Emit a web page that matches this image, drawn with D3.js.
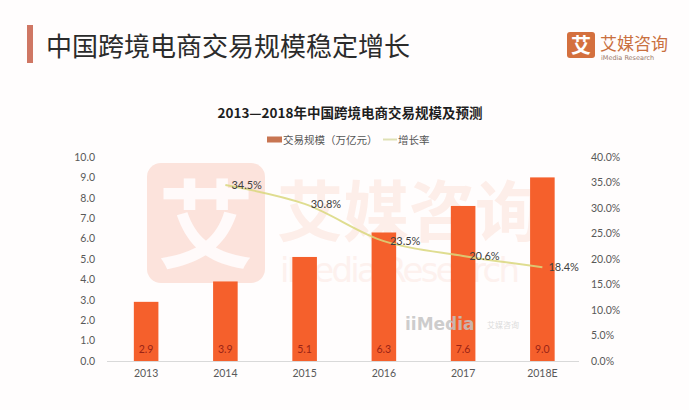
<!DOCTYPE html>
<html>
<head>
<meta charset="utf-8">
<script src="https://cdn.jsdelivr.net/npm/d3@7/dist/d3.min.js"></script>
<style>
html,body{margin:0;padding:0;background:#fffdfd;}
svg{display:block;}
</style>
</head>
<body>
<svg id="chart" width="689" height="410"></svg>
<script>
const categories = ["2013","2014","2015","2016","2017","2018E"];
const tradeScale = [2.9, 3.9, 5.1, 6.3, 7.6, 9.0];
const growthRate = [null, 34.5, 30.8, 23.5, 20.6, 18.4];
const leftTicks = [0,1,2,3,4,5,6,7,8,9,10];
const rightTicks = [0,5,10,15,20,25,30,35,40];
const pageTitle = "中国跨境电商交易规模稳定增长";
const chartTitle = "2013—2018年中国跨境电商交易规模及预测";
const legendLabels = ["交易规模（万亿元）", "增长率"];

const svg = d3.select("#chart");
const numFont = "Lato, 'Open Sans', 'Noto Sans CJK SC', sans-serif";
const cjk = "'Noto Sans CJK SC', 'Noto Sans', sans-serif";

svg.append("rect").attr("width",689).attr("height",410).attr("fill","#fffdfd");

// Header
svg.append("rect").attr("x",27).attr("y",25).attr("width",6).attr("height",38).attr("fill","#cf7764");
svg.append("text").attr("x",46).attr("y",56).attr("font-family",cjk).attr("font-size",26)
  .attr("fill","#2b2b2b").text(pageTitle);

// Logo
svg.append("rect").attr("x",567).attr("y",32).attr("width",28).attr("height",26).attr("rx",3).attr("fill","#d4703e");
svg.append("text").attr("x",581).attr("y",53).attr("text-anchor","middle").attr("font-family",cjk)
  .attr("font-weight","bold").attr("font-size",20).attr("fill","#fff").text("艾");
svg.append("text").attr("x",600).attr("y",50).attr("font-family",cjk).attr("font-size",17)
  .attr("fill","#c9703f").text("艾媒咨询");
svg.append("text").attr("x",601).attr("y",60).attr("font-family","'DejaVu Sans', sans-serif").attr("font-size",6.5)
  .attr("fill","#9a7a6a").text("iMedia Research");

// Watermark (faint, behind the chart)
const wm = svg.append("g");
wm.append("rect").attr("x",147).attr("y",163).attr("width",118).attr("height",120).attr("rx",14).attr("fill","#fce3dc");
wm.append("text").attr("x",206).attr("y",260).attr("text-anchor","middle").attr("font-family",cjk)
  .attr("font-weight","bold").attr("font-size",96).attr("fill","#fffafa").text("艾");
wm.append("text").attr("x",277).attr("y",236).attr("font-family",cjk).attr("font-weight","bold")
  .attr("font-size",66).attr("fill","#fdeee9").text("艾媒咨询");
wm.append("text").attr("x",280).attr("y",282).attr("font-family","'DejaVu Sans', sans-serif")
  .attr("font-size",34).attr("fill","#fdf1ee").attr("textLength",240).text("iMedia Research");

// Chart title
svg.append("text").attr("x",350).attr("y",118).attr("text-anchor","middle").attr("font-family",cjk)
  .attr("font-weight","bold").attr("font-size",13.5).attr("fill","#1e1e1e").text(chartTitle);

// Legend
svg.append("rect").attr("x",267).attr("y",136.5).attr("width",15).attr("height",6).attr("fill","#c87552");
svg.append("text").attr("x",283).attr("y",143.5).attr("font-family",cjk).attr("font-size",10.5)
  .attr("fill","#555").text(legendLabels[0]);
svg.append("line").attr("x1",383).attr("x2",397).attr("y1",139.5).attr("y2",139.5)
  .attr("stroke","#dfe0b4").attr("stroke-width",2);
svg.append("text").attr("x",398).attr("y",143.5).attr("font-family",cjk).attr("font-size",10.5)
  .attr("fill","#555").text(legendLabels[1]);

// Scales
const x = d3.scaleBand().domain(categories).range([106.5, 582]).padding(0);
const y = d3.scaleLinear().domain([0,10]).range([361,157]);
const y2 = d3.scaleLinear().domain([0,40]).range([361,157]);
const barW = x.bandwidth()*0.31;

// Left axis
const leftAxis = d3.axisLeft(y).tickValues(leftTicks).tickFormat(d3.format(".1f")).tickSize(0).tickPadding(0);
const gl = svg.append("g").attr("transform","translate(95,0)").call(leftAxis);
gl.select(".domain").remove();
gl.selectAll("text").attr("font-family",numFont).attr("font-size",10.5).attr("fill","#595959");

// Right axis
const rightAxis = d3.axisRight(y2).tickValues(rightTicks).tickFormat(d => d3.format(".1f")(d)+"%").tickSize(0).tickPadding(0);
const gr = svg.append("g").attr("transform","translate(591,0)").call(rightAxis);
gr.select(".domain").remove();
gr.selectAll("text").attr("font-family",numFont).attr("font-size",10.5).attr("fill","#595959");

// Bars
svg.append("g").selectAll("rect").data(categories).join("rect")
  .attr("x", (d) => x(d) + x.bandwidth()/2 - barW/2)
  .attr("y", (d,i) => y(tradeScale[i]))
  .attr("width", barW)
  .attr("height", (d,i) => y(0) - y(tradeScale[i]))
  .attr("fill","#f5602c");

// iiMedia mark
svg.append("text").attr("x",405).attr("y",330).attr("font-family","'DejaVu Sans', sans-serif").attr("font-weight","bold")
  .attr("font-size",17).attr("fill","#c4c4c4").attr("fill-opacity",0.85).text("iiMedia");
svg.append("text").attr("x",487).attr("y",328).attr("font-family",cjk)
  .attr("font-size",8).attr("fill","#dcdcdc").text("艾媒咨询");

// Baseline
svg.append("line").attr("x1",107).attr("x2",579).attr("y1",361.5).attr("y2",361.5)
  .attr("stroke","#d9d9d9").attr("stroke-width",1);

// Bar labels
svg.append("g").selectAll("text").data(categories).join("text")
  .attr("x", d => x(d) + x.bandwidth()/2)
  .attr("y", 353)
  .attr("text-anchor","middle").attr("font-family",numFont).attr("font-size",10.5)
  .attr("fill","#9a2416")
  .text((d,i) => tradeScale[i].toFixed(1));

// Category labels
const bottomAxis = d3.axisBottom(x).tickSize(0).tickPadding(0);
const gb = svg.append("g").attr("transform","translate(0,370)").call(bottomAxis);
gb.select(".domain").remove();
gb.selectAll("text").attr("font-family",numFont).attr("font-size",10.5).attr("fill","#595959").attr("dy","0.71em");

// Growth line
const pts = categories.map((c,i) => ({c, v: growthRate[i]})).filter(p => p.v != null);
const line = d3.line().x(p => x(p.c) + x.bandwidth()/2).y(p => y2(p.v)).curve(d3.curveCatmullRom.alpha(0.5));
svg.append("path").datum(pts).attr("d", line).attr("fill","none")
  .attr("stroke","#d9d77c").attr("stroke-opacity",0.85).attr("stroke-width",2);

// Line labels
svg.append("g").selectAll("text").data(pts).join("text")
  .attr("x", p => x(p.c) + x.bandwidth()/2 + 6)
  .attr("y", p => y2(p.v) + 4)
  .attr("font-family",numFont).attr("font-size",11)
  .attr("fill","#404040")
  .text(p => p.v.toFixed(1)+"%");
</script>
</body>
</html>
